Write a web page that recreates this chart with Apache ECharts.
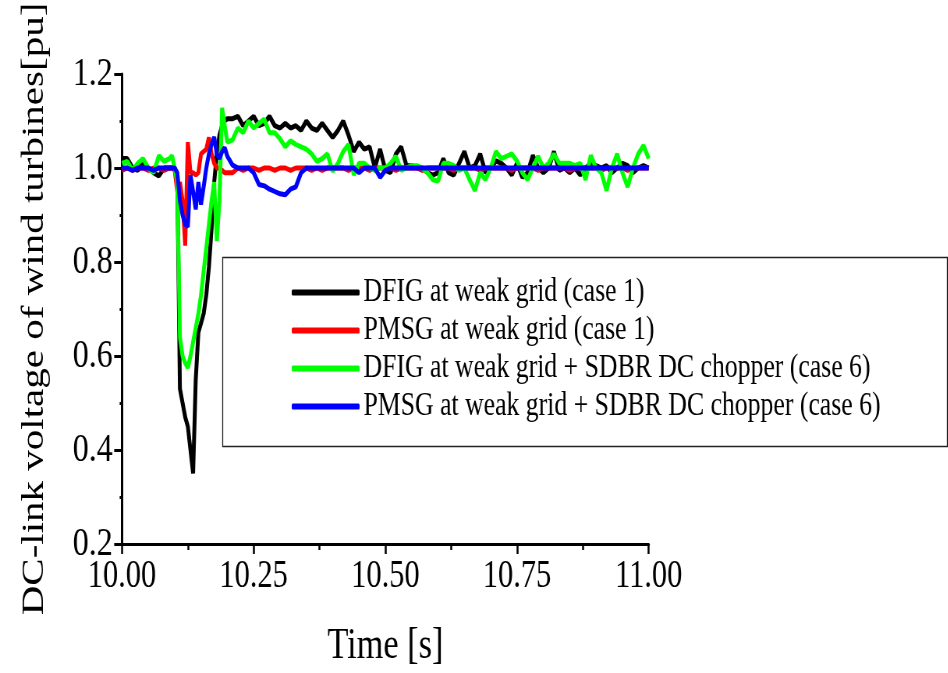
<!DOCTYPE html>
<html><head><meta charset="utf-8">
<script src="https://cdn.jsdelivr.net/npm/echarts@6/dist/echarts.min.js"></script>
<style>
html,body{margin:0;padding:0;background:#fff;overflow:hidden;width:948px;height:673px;}
#c{width:1215px;height:673px;transform:scaleX(0.78);transform-origin:0 0;}
</style></head>
<body><div id="c"></div>
<script>
// time stamps [s]
var TIME = [10.00,10.01,10.02,10.03,10.04,10.05,10.06,10.07,10.08,10.09,
10.095,10.10,10.105,10.11,10.115,10.12,10.125,10.13,10.135,10.14,10.145,10.15,10.155,10.16,10.165,10.17,10.175,10.18,10.185,10.19,10.195,10.20,
10.21,10.22,10.23,10.24,10.25,10.26,10.27,10.28,10.29,10.30,
10.31,10.32,10.33,10.34,10.35,10.36,10.37,10.38,10.39,10.40,
10.41,10.42,10.43,10.44,10.45,10.46,10.47,10.48,10.49,10.50,
10.51,10.52,10.53,10.54,10.55,10.56,10.57,10.58,10.59,10.60,
10.61,10.62,10.63,10.64,10.65,10.66,10.67,10.68,10.69,10.70,
10.71,10.72,10.73,10.74,10.75,10.76,10.77,10.78,10.79,10.80,
10.81,10.82,10.83,10.84,10.85,10.86,10.87,10.88,10.89,10.90,
10.91,10.92,10.93,10.94,10.95,10.96,10.97,10.98,10.99,11.00];

var SERIES_NAMES = ['DFIG at weak grid (case 1)','PMSG at weak grid (case 1)','DFIG at weak grid + SDBR DC chopper (case 6)','PMSG at weak grid + SDBR DC chopper (case 6)'];

var DFIG_CASE1 = [1.02,1.02,1.0,0.995,1.01,1.0,0.99,0.983,1.0,1.0,
1.0,1.0,0.98,0.53,0.50,0.47,0.45,0.40,0.35,0.55,0.65,0.67,0.69,0.73,0.79,0.87,0.97,1.03,1.07,1.09,1.10,1.105,
1.105,1.11,1.09,1.10,1.11,1.09,1.095,1.11,1.09,1.085,
1.095,1.085,1.09,1.08,1.10,1.085,1.08,1.095,1.08,1.065,
1.08,1.10,1.07,1.035,1.055,1.04,1.045,1.0,1.04,0.995,
0.99,1.03,1.045,1.005,1.005,1.0,1.0,0.99,0.985,0.99,
1.02,0.99,0.985,1.01,1.035,1.0,1.005,1.03,0.99,1.0,
1.015,1.01,1.0,0.985,1.01,0.98,0.99,1.027,1.0,0.99,
1.0,1.035,0.995,1.0,0.99,1.0,0.985,1.0,1.01,1.005,
1.0,1.005,0.99,1.0,1.01,1.005,0.99,1.0,1.005,1.0];

var PMSG_CASE1 = [0.995,1.0,0.995,1.0,1.0,0.995,1.0,1.0,0.995,1.0,
1.0,0.995,0.95,0.97,0.93,0.835,1.055,0.99,0.99,0.985,0.99,1.03,1.035,1.04,1.065,1.03,1.01,1.0,1.0,0.995,0.99,0.99,
0.99,1.0,0.995,1.0,1.0,0.995,1.0,1.0,0.995,1.0,
1.0,0.995,1.0,1.0,1.0,0.995,1.0,0.995,1.0,1.0,
1.0,1.0,0.995,1.0,1.0,1.0,0.995,1.0,1.0,1.0,
1.0,0.995,1.0,1.0,1.0,1.0,0.995,1.0,1.0,1.0,
1.0,1.0,0.995,1.0,1.0,1.0,1.0,0.995,1.0,1.0,
1.0,1.0,1.0,0.995,1.0,1.0,1.0,1.0,0.995,1.0,
1.0,1.0,1.0,1.0,0.995,1.0,1.0,1.0,1.0,1.0,
0.995,1.0,1.0,1.0,1.0,0.995,1.0,1.0,1.0,1.0];

var DFIG_CASE6 = [1.01,1.014,0.995,1.01,1.02,1.0,0.99,1.026,1.014,1.02,
1.026,1.0,0.97,0.64,0.60,0.585,0.575,0.60,0.63,0.66,0.69,0.73,0.78,0.83,0.88,0.93,0.97,0.845,0.93,1.128,1.09,1.055,
1.06,1.085,1.075,1.10,1.085,1.095,1.104,1.075,1.075,1.062,
1.045,1.058,1.05,1.045,1.04,1.03,1.014,1.02,1.03,0.993,
1.01,1.035,1.05,0.985,1.01,1.01,1.0,0.995,1.0,1.0,
1.01,1.025,0.995,1.0,1.005,1.005,1.0,0.99,0.975,0.972,
1.01,1.01,1.005,0.995,1.0,0.975,0.952,0.99,0.975,1.0,
1.035,1.02,1.025,1.03,1.015,0.99,0.975,1.0,1.025,1.0,
1.01,1.03,1.01,1.01,1.01,1.005,1.01,0.975,1.027,1.0,
0.99,0.952,1.0,1.03,0.99,0.96,1.0,1.03,1.048,1.02];

var PMSG_CASE6 = [1.0,1.0,0.995,1.0,1.0,1.0,0.995,1.0,1.0,1.0,
1.0,1.0,0.99,0.93,0.90,0.88,0.875,0.985,0.95,0.912,0.97,0.922,0.96,1.0,1.03,1.05,1.066,1.03,1.02,1.035,1.043,1.025,
1.006,1.0,1.0,1.0,0.99,0.965,0.962,0.955,0.95,0.945,
0.943,0.955,0.96,0.99,1.0,1.0,1.0,1.0,1.0,1.0,
1.0,1.0,1.0,1.0,0.99,1.0,1.0,1.0,0.98,0.995,
1.0,1.0,1.0,1.0,1.0,1.0,1.0,1.0,1.0,1.0,
1.0,1.0,1.0,1.0,1.0,1.0,1.0,1.0,1.0,1.0,
1.0,1.0,1.0,1.0,1.0,1.0,1.0,1.0,1.0,1.0,
1.0,1.0,1.0,1.0,1.0,1.0,1.0,1.0,1.0,1.0,
1.0,1.0,1.0,1.0,1.0,1.0,1.0,1.0,1.0,1.0];

var COLORS = ['#000000','#ff0000','#00ff00','#0000ff'];
var X_TICKS = {min:10, max:11, interval:0.25};
var Y_TICKS = {min:0.2, max:1.2, interval:0.2};

function pairs(vals){ return TIME.map(function(t,i){ return [t, vals[i]]; }); }
var ALL = [DFIG_CASE1, PMSG_CASE1, DFIG_CASE6, PMSG_CASE6];
var FONT = '"Liberation Serif", "Times New Roman", serif';

var chart = echarts.init(document.getElementById('c'), null, {renderer:'canvas'});
chart.setOption({
  animation:false,
  backgroundColor:'#fff',
  textStyle:{fontFamily:FONT},
  grid:{left:156.4, right:383.3, top:74, bottom:120},
  xAxis:{type:'value', min:X_TICKS.min, max:X_TICKS.max, interval:X_TICKS.interval,
    name:'Time [s]', nameLocation:'middle', nameGap:80,
    nameTextStyle:{fontFamily:FONT, fontSize:44, color:'#000'},
    axisLine:{show:true, onZero:false, lineStyle:{color:'#000', width:3}},
    axisTick:{show:true, inside:false, length:10, lineStyle:{color:'#000', width:2.5}},
    minorTick:{show:true, splitNumber:2, length:6, lineStyle:{color:'#000', width:2.5}},
    splitLine:{show:false},
    axisLabel:{fontFamily:FONT, fontSize:39, color:'#000', margin:13,
      formatter:function(v){return v.toFixed(2);}}},
  yAxis:{type:'value', min:Y_TICKS.min, max:Y_TICKS.max, interval:Y_TICKS.interval,
    name:'DC-link voltage of wind turbines[pu]', nameLocation:'middle', nameGap:92,
    nameTextStyle:{fontFamily:FONT, fontSize:41, color:'#000'},
    axisLine:{show:true, lineStyle:{color:'#000', width:3}},
    axisTick:{show:true, inside:false, length:10, lineStyle:{color:'#000', width:3}},
    minorTick:{show:true, splitNumber:2, length:3, lineStyle:{color:'#000', width:3}},
    splitLine:{show:false},
    axisLabel:{fontFamily:FONT, fontSize:41, color:'#000', margin:12,
      formatter:function(v){return v.toFixed(1);}}},
  legend:{show:true, orient:'vertical', left:374, top:276, padding:0,
    icon:'roundRect', itemWidth:87, itemHeight:6, itemGap:5,
    textStyle:{fontFamily:FONT, fontSize:33, color:'#000', lineHeight:32},
    data:SERIES_NAMES},
  graphic:[{type:'rect', left:283, top:255, z:0, silent:true,
    shape:{width:929, height:189},
    style:{fill:'none', stroke:'#222', lineWidth:1.3}}],
  series:ALL.map(function(v,i){
    return {name:SERIES_NAMES[i], type:'line', data:pairs(v), showSymbol:false, symbol:'none',
      color:COLORS[i], lineStyle:{color:COLORS[i], width:5}, z:2+i, clip:true};
  })
});
</script></body></html>
